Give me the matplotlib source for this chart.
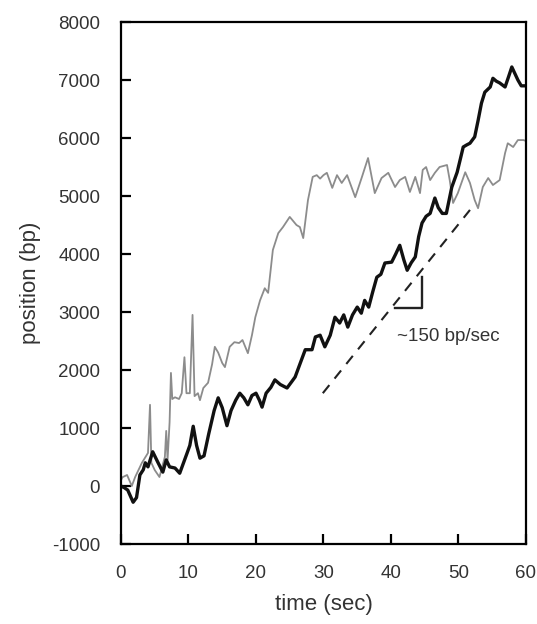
import numpy as np
import matplotlib.pyplot as plt

plt.rcParams['font.family'] = ['Liberation Sans', 'DejaVu Sans']
plt.rcParams['axes.unicode_minus'] = False

# fast molecule (black)
t_fast = [0, 0.5, 1.0, 1.8, 2.3, 2.8, 3.3, 3.6, 4.0, 4.7, 5.5, 6.2, 6.7, 7.2, 8.0, 8.7,
          9.8, 10.2, 10.7, 11.2, 11.7, 12.3, 13.0, 13.8, 14.4, 15.0, 15.7, 16.3, 17.0,
          17.6, 18.2, 18.8, 19.4, 20.0, 20.5, 20.9, 21.5, 22.2, 22.8, 23.6, 24.6, 25.3,
          25.8, 26.5, 27.3, 28.3, 28.8, 29.5, 30.2, 31.0, 31.7, 32.4, 33.0, 33.6, 34.3,
          35.0, 35.6, 36.1, 36.7, 37.3, 37.9, 38.5, 39.1, 40.1, 40.7, 41.3, 41.9, 42.4,
          43.0, 43.6, 44.1, 44.6, 45.2, 45.8, 46.5, 47.0, 47.6, 48.2, 49.0, 49.8, 50.3,
          50.7, 51.2, 51.7, 52.4, 52.9, 53.4, 53.9, 54.7, 55.1, 55.6, 56.1, 56.9, 57.4,
          57.9, 58.4, 58.8, 59.3, 60.0]
pos_fast = [0, -30, -70, -280, -200, 190, 280, 400, 330, 590, 400, 240, 450, 330, 310, 220,
            570, 700, 1030, 700, 480, 520, 900, 1300, 1520, 1350, 1040, 1300, 1480,
            1600, 1520, 1400, 1560, 1600, 1480, 1360, 1600, 1700, 1830, 1750, 1690, 1800,
            1880, 2100, 2350, 2350, 2570, 2600, 2400, 2600, 2910, 2810, 2950, 2740, 2950,
            3085, 2980, 3200, 3085, 3350, 3600, 3650, 3845, 3860, 4000, 4150, 3900, 3720,
            3850, 3950, 4300, 4535, 4650, 4700, 4965, 4800, 4700, 4700, 5150, 5410, 5650,
            5845, 5880, 5910, 6020, 6300, 6600, 6790, 6880, 7030, 6980, 6950, 6880, 7050,
            7225, 7100, 7000, 6900, 6900]

# slow molecule (grey)
t_slow = [0, 0.2, 0.9, 1.6, 2.1, 3.1, 4.0, 4.3, 4.5, 5.0, 5.7, 6.5, 6.7, 6.9, 7.2, 7.4,
          7.6, 8.0, 8.6, 9.0, 9.4, 9.7, 10.2, 10.6, 10.9, 11.4, 11.7, 12.2, 12.9, 13.5,
          13.9, 14.4, 15.0, 15.4, 16.1, 16.8, 17.5, 18.0, 18.8, 19.4, 19.9, 20.6, 21.3,
          21.8, 22.5, 23.3, 24.0, 25.0, 26.0, 26.5, 27.0, 27.7, 28.4, 29.0, 29.5, 30.0,
          30.5, 31.3, 32.0, 32.7, 33.5, 34.7, 35.7, 36.6, 37.6, 38.6, 39.6, 40.6, 41.3,
          42.1, 42.8, 43.6, 44.3, 44.7, 45.2, 45.8, 46.5, 47.2, 48.3, 48.7, 49.2, 49.9,
          51.0, 51.7, 52.4, 52.9, 53.6, 54.4, 55.1, 56.1, 56.9, 57.3, 58.1, 58.8, 59.6, 60.0]
pos_slow = [100, 150, 190, 0, 155, 400, 570, 1400, 400, 275, 155, 500, 950, 450, 1100, 1950,
            1500, 1530, 1500, 1600, 2220, 1600, 1600, 2950, 1550, 1600, 1480, 1690, 1780, 2100,
            2400, 2300, 2120, 2050, 2400, 2480, 2465, 2517, 2290, 2600, 2910, 3200, 3410,
            3330, 4070, 4360, 4465, 4640, 4500, 4465, 4275, 4930, 5330, 5360, 5300, 5360,
            5400, 5140, 5360, 5225, 5360, 4980, 5330, 5655, 5050, 5310, 5400, 5155, 5275,
            5330, 5070, 5330, 5050, 5450, 5500, 5275, 5400, 5500, 5535, 5275, 4880, 5050,
            5410, 5225, 4930, 4790, 5155, 5310, 5190, 5275, 5740, 5910, 5845, 5965, 5965, 5950]

# guide line for ~150 bp/sec and its slope bracket
guide_t = [29.9, 51.7]
guide_pos = [1600, 4760]
bracket_t = [40.6, 44.6, 44.6]
bracket_pos = [3070, 3070, 3600]

fig = plt.figure(figsize=(5.37, 6.24), dpi=100)
ax = fig.add_axes([0.2253, 0.1282, 0.7542, 0.8365])

ax.plot(t_slow, pos_slow, color='#8c8c8c', lw=1.3)
ax.plot(t_fast, pos_fast, color='#111111', lw=2.4)
ax.plot(guide_t, guide_pos, color='#222222', lw=1.5, ls=(0, (5, 4)))
ax.plot(bracket_t, bracket_pos, color='#222222', lw=1.7)
ax.text(40.9, 2570, '~150 bp/sec', fontsize=13.5, color='#333333', va='center')

ax.set_xlim(0, 60)
ax.set_ylim(-1000, 8000)
ax.set_xticks(np.arange(0, 61, 10))
ax.set_yticks(np.arange(-1000, 8001, 1000))
ax.tick_params(direction='in', length=7, width=1.6, pad=15, labelsize=13.5,
               labelcolor='#333333')
for sp in ax.spines.values():
    sp.set_linewidth(1.6)

ax.set_xlabel('time (sec)', fontsize=16, color='#333333', labelpad=9)
ax.set_ylabel('position (bp)', fontsize=16, color='#333333', labelpad=8)

plt.savefig('out.png', dpi=100)
